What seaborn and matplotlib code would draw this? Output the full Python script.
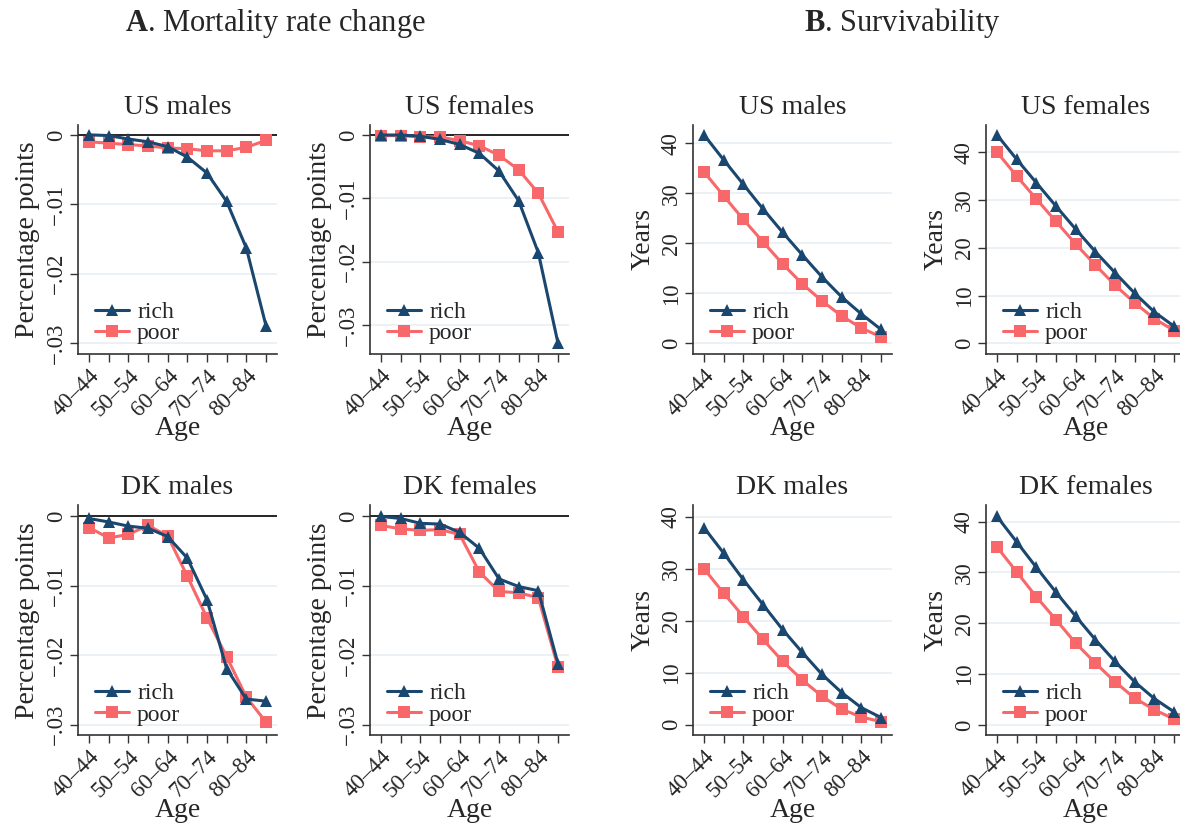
"""
Mortality rate change and survivability by age, rich vs poor, US and DK
"""

import pandas as pd
import matplotlib.pyplot as plt
import seaborn as sns

# Age groups (x axis) and tick labels
ages = ["40–44", "45–49", "50–54", "55–59", "60–64",
        "65–69", "70–74", "75–79", "80–84", "85–89"]
age_ticklabels = ["40–44", "", "50–54", "", "60–64", "", "70–74", "", "80–84", ""]

# Panel A: mortality rate change (percentage points)
us_m_rich_mort = [0.0, -0.0001, -0.0006, -0.0010, -0.0017, -0.0032, -0.0055, -0.0096, -0.0163, -0.0275]
us_m_poor_mort = [-0.0010, -0.0012, -0.0014, -0.0016, -0.0019, -0.0020, -0.0023, -0.0023, -0.0018, -0.0008]
us_f_rich_mort = [0.0, 0.0, -0.0002, -0.0007, -0.0015, -0.0029, -0.0057, -0.0104, -0.0186, -0.0329]
us_f_poor_mort = [-0.0001, -0.0001, -0.0003, -0.0003, -0.0009, -0.0017, -0.0032, -0.0055, -0.0092, -0.0153]
dk_m_rich_mort = [-0.0003, -0.0008, -0.0014, -0.0017, -0.0029, -0.0060, -0.0120, -0.0219, -0.0263, -0.0266]
dk_m_poor_mort = [-0.0016, -0.0031, -0.0026, -0.0013, -0.0028, -0.0086, -0.0146, -0.0202, -0.0260, -0.0296]
dk_f_rich_mort = [0.0, -0.0003, -0.0010, -0.0011, -0.0023, -0.0046, -0.0090, -0.0101, -0.0107, -0.0212]
dk_f_poor_mort = [-0.0013, -0.0018, -0.0020, -0.0019, -0.0026, -0.0080, -0.0108, -0.0110, -0.0117, -0.0217]

# Panel B: survivability (years)
us_m_rich_surv = [41.7, 36.7, 31.8, 26.9, 22.2, 17.7, 13.3, 9.3, 5.9, 2.8]
us_m_poor_surv = [34.3, 29.5, 24.8, 20.3, 15.9, 11.9, 8.5, 5.5, 3.1, 1.3]
us_f_rich_surv = [43.6, 38.5, 33.6, 28.7, 23.9, 19.2, 14.8, 10.5, 6.6, 3.6]
us_f_poor_surv = [40.0, 35.0, 30.2, 25.5, 20.8, 16.4, 12.2, 8.5, 5.2, 2.7]
dk_m_rich_surv = [37.9, 33.0, 27.9, 23.1, 18.3, 13.9, 9.7, 6.2, 3.3, 1.4]
dk_m_poor_surv = [30.0, 25.3, 20.8, 16.4, 12.2, 8.6, 5.5, 3.0, 1.5, 0.6]
dk_f_rich_surv = [41.0, 36.0, 31.0, 26.1, 21.4, 16.8, 12.5, 8.5, 5.2, 2.6]
dk_f_poor_surv = [35.0, 30.1, 25.2, 20.7, 16.1, 12.2, 8.5, 5.3, 3.0, 1.2]

mort_ticks = [0, -0.01, -0.02, -0.03]
mort_ticklabels = ["0", "−.01", "−.02", "−.03"]
surv_ticks = [0, 10, 20, 30, 40]
surv_ticklabels = ["0", "10", "20", "30", "40"]

RICH_COLOR = "#1a476f"
POOR_COLOR = "#f8686a"
GRID_COLOR = "#e8eff2"

sns.set_theme(style="white")
plt.rcParams["font.family"] = ["Liberation Serif", "DejaVu Serif"]
plt.rcParams["mathtext.fontset"] = "custom"
plt.rcParams["mathtext.rm"] = "Liberation Serif"
plt.rcParams["mathtext.bf"] = "Liberation Serif:bold"

fig = plt.figure(figsize=(11.8, 8.27), dpi=100)

# (title, rich, poor, kind, axes rect, ylim)
panels = [
    ("US males", us_m_rich_mort, us_m_poor_mort, "mort", [0.0661, 0.572, 0.1686, 0.277], (-0.0316, 0.00144)),
    ("US females", us_f_rich_mort, us_f_poor_mort, "mort", [0.3136, 0.572, 0.1686, 0.277], (-0.0346, 0.0016)),
    ("DK males", dk_m_rich_mort, dk_m_poor_mort, "mort", [0.0661, 0.111, 0.1686, 0.278], (-0.0315, 0.0016)),
    ("DK females", dk_f_rich_mort, dk_f_poor_mort, "mort", [0.3136, 0.111, 0.1686, 0.278], (-0.0315, 0.0016)),
    ("US males", us_m_rich_surv, us_m_poor_surv, "surv", [0.5873, 0.572, 0.1686, 0.277], (-2.1, 43.7)),
    ("US females", us_f_rich_surv, us_f_poor_surv, "surv", [0.8356, 0.572, 0.1686, 0.277], (-2.2, 45.7)),
    ("DK males", dk_m_rich_surv, dk_m_poor_surv, "surv", [0.5873, 0.111, 0.1686, 0.278], (-2.0, 42.2)),
    ("DK females", dk_f_rich_surv, dk_f_poor_surv, "surv", [0.8356, 0.111, 0.1686, 0.278], (-2.0, 43.2)),
]

for title, rich, poor, kind, rect, ylim in panels:
    ax = fig.add_axes(rect)
    df = pd.DataFrame({"pos": list(range(len(ages))), "age": ages, "rich": rich, "poor": poor})

    if kind == "mort":
        ticks, labels, ylabel = mort_ticks, mort_ticklabels, "Percentage points"
        for t in ticks[1:]:
            ax.axhline(t, color=GRID_COLOR, lw=1.2, zorder=0)
        ax.axhline(0, color="black", lw=1.2, zorder=1)
    else:
        ticks, labels, ylabel = surv_ticks, surv_ticklabels, "Years"
        for t in ticks:
            ax.axhline(t, color=GRID_COLOR, lw=1.2, zorder=0)

    sns.lineplot(data=df, x="pos", y="poor", ax=ax, color=POOR_COLOR, marker="s",
                 markersize=8, markeredgewidth=0, linewidth=2.2, label="poor", zorder=2)
    sns.lineplot(data=df, x="pos", y="rich", ax=ax, color=RICH_COLOR, marker="^",
                 markersize=9, markeredgewidth=0, linewidth=2.2, label="rich", zorder=3)

    ax.set_xlim(-0.56, 9.56)
    ax.set_ylim(*ylim)
    ax.set_xticks(df["pos"])
    ax.set_xticklabels(age_ticklabels, rotation=45, ha="right", rotation_mode="anchor", fontsize=16.5)
    ax.set_yticks(ticks)
    ax.set_yticklabels(labels, rotation=90, va="center", fontsize=16.5)
    ax.tick_params(axis="both", direction="out", length=6, width=1, color="#333333",
                   bottom=True, left=True, pad=2)
    ax.set_xlabel("Age", fontsize=20, labelpad=-3)
    ax.set_ylabel(ylabel, fontsize=20, labelpad=4)
    ax.set_title(title, fontsize=20, pad=8)

    for side in ["top", "right"]:
        ax.spines[side].set_visible(False)
    for side in ["left", "bottom"]:
        ax.spines[side].set_color("#333333")
        ax.spines[side].set_linewidth(1.2)

    handles, hlabels = ax.get_legend_handles_labels()
    order = [hlabels.index("rich"), hlabels.index("poor")]
    ax.legend([handles[i] for i in order], [hlabels[i] for i in order], loc="lower left",
              bbox_to_anchor=(0.0, -0.03), frameon=False, fontsize=17, handlelength=1.45,
              handletextpad=0.35, labelspacing=0.0, borderpad=0.2)

fig.text(0.233, 0.972, r"$\mathbf{A}$. Mortality rate change", ha="center", va="center", fontsize=22)
fig.text(0.765, 0.972, r"$\mathbf{B}$. Survivability", ha="center", va="center", fontsize=22)

plt.savefig("out.png", dpi=100)
